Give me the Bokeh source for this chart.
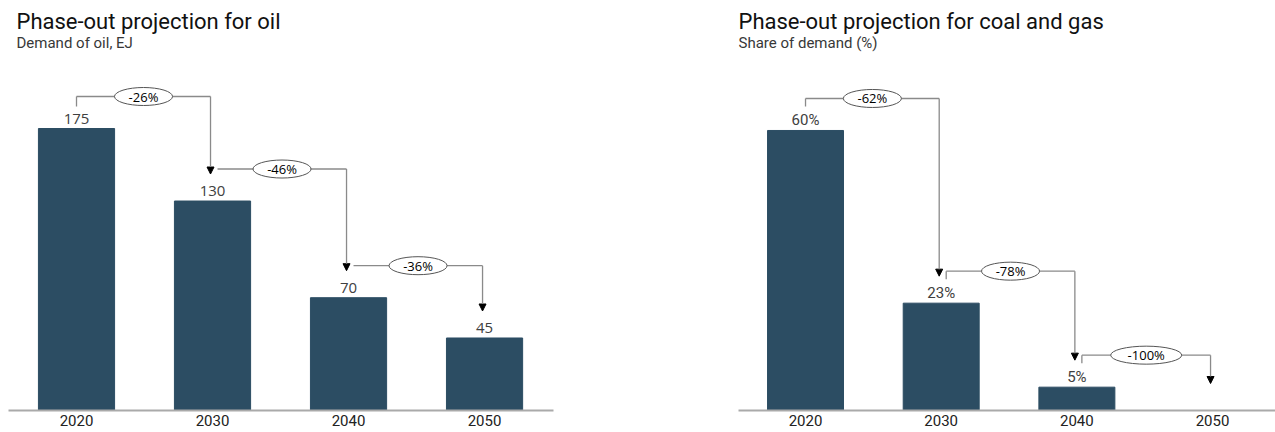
from bokeh.plotting import figure
from bokeh.layouts import row
from bokeh.models import ColumnDataSource, Arrow, NormalHead, Label, FixedTicker, Range1d
from bokeh.core.properties import value
from bokeh.embed import file_html
from bokeh.resources import INLINE

years = ["2020", "2030", "2040", "2050"]
oil_values = [175, 130, 70, 45]
oil_labels = ["175", "130", "70", "45"]
oil_changes = ["-26%", "-46%", "-36%"]
cg_values = [60, 23, 5, 0]
cg_labels = ["60%", "23%", "5%", ""]
cg_changes = ["-62%", "-78%", "-100%"]

BAR = "#2c4d63"
FRAME_H = 410


def make_chart(title, subtitle, values, labels, changes, frame_w, x_start, x_end, y_end,
               border_left, border_right, title_x, tick_lens, value_font):
    p = figure(frame_width=frame_w, frame_height=FRAME_H, output_backend="svg",
               toolbar_location=None, x_range=Range1d(x_start, x_end),
               y_range=Range1d(0, y_end), min_border_left=border_left,
               min_border_right=border_right, min_border_top=0, min_border_bottom=0)
    p.outline_line_color = None
    p.xgrid.visible = False
    p.ygrid.visible = False
    p.yaxis.visible = False
    p.background_fill_color = "white"
    p.border_fill_color = "white"

    xs = list(range(len(years)))
    p.vbar(x=xs, top=values, width=0.56, bottom=0, fill_color=BAR, line_color=BAR)
    p.text(x=xs, y=values, text=labels, text_align="center", text_baseline="middle",
           y_offset=-10, text_font=value(value_font), text_font_size="15px", text_color="#404040")

    ppx = frame_w / (x_end - x_start)
    ppu = FRAME_H / y_end
    hx0, hx1, hy, vx, vy0, vy1, tx0, ty0, ty1, mx, my, ew = ([] for _ in range(12))
    for i, ch in enumerate(changes):
        xs_ = i + (0 if i == 0 else 5 / ppx)
        xe_ = i + 1 - 2 / ppx
        level = values[i] + 32 / ppu
        tip = values[i + 1] + 27 / ppu
        hx0.append(xs_); hx1.append(xe_); hy.append(level)
        vx.append(xe_); vy0.append(level); vy1.append(tip)
        tx0.append(xs_); ty0.append(level); ty1.append(level - tick_lens[i] / ppu)
        mx.append((xs_ + xe_) / 2); my.append(level)
        ew.append(13 * len(ch) + 6)
    p.segment(x0=hx0, y0=hy, x1=hx1, y1=hy, line_color="#8a8a8a", line_width=1.3)
    p.segment(x0=tx0, y0=ty0, x1=tx0, y1=ty1, line_color="#8a8a8a", line_width=1.3)
    src = ColumnDataSource(dict(x=vx, y0=vy0, y1=vy1))
    p.add_layout(Arrow(x_start="x", y_start="y0", x_end="x", y_end="y1", source=src,
                       line_color="#8a8a8a", line_width=1.3,
                       end=NormalHead(size=7, fill_color="black", line_color="black")))
    p.ellipse(x=mx, y=my, width=ew, height=18, width_units="screen", height_units="screen",
              fill_color="white", line_color="#555555", line_width=1)
    p.text(x=mx, y=my, text=changes, text_align="center", text_baseline="middle",
           text_font=value("Open Sans"), text_font_size="13px", text_color="black")

    p.xaxis.ticker = FixedTicker(ticks=xs)
    p.xaxis.major_label_overrides = {i: y for i, y in enumerate(years)}
    p.xaxis.major_tick_line_color = None
    p.xaxis.minor_tick_line_color = None
    p.xaxis.major_tick_out = 0
    p.xaxis.axis_line_color = "#aaaaaa"
    p.xaxis.axis_line_width = 2
    p.xaxis.major_label_standoff = 4
    p.xaxis.major_label_text_font = "Roboto"
    p.xaxis.major_label_text_font_size = "15px"
    p.xaxis.major_label_text_color = "#222222"

    p.add_layout(Label(x=title_x, y=FRAME_H - 21, x_units="screen", y_units="screen",
                       text=title, text_font="Roboto", text_font_size="22px",
                       text_color="#111111", text_baseline="middle", text_align="left"))
    p.add_layout(Label(x=title_x, y=FRAME_H - 42, x_units="screen", y_units="screen",
                       text=subtitle, text_font="Roboto", text_font_size="15px",
                       text_color="#383838", text_baseline="middle", text_align="left"))
    return p


left = make_chart("Phase-out projection for oil", "Demand of oil, EJ", oil_values, oil_labels,
                  oil_changes, 545, -0.5, 3.507, FRAME_H / 1.6114, 8, 77, 8, [10, 0, 0],
                  "Open Sans")
right = make_chart("Phase-out projection for coal and gas", "Share of demand (%)", cg_values,
                   cg_labels, cg_changes, 537, -0.494, 3.464, FRAME_H / 4.667, 108, 0, 0,
                   [8, 8, 8], "Roboto")

layout = row(left, right)
open("out.html", "w").write(file_html(layout, INLINE))
